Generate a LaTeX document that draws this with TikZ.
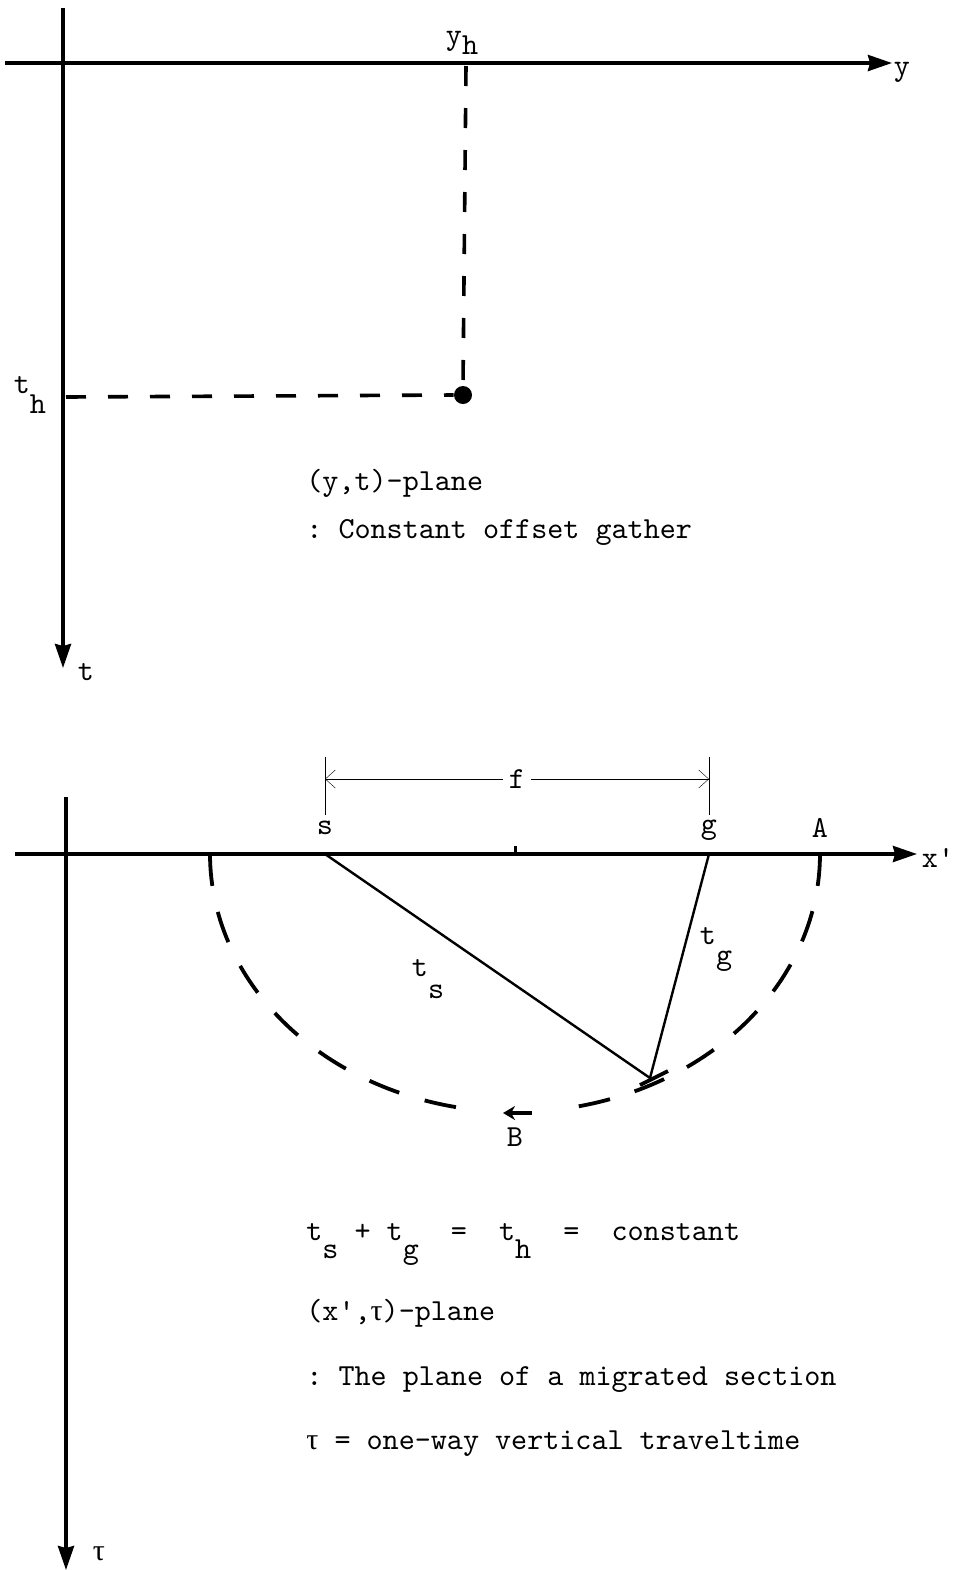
\documentclass[tikz,border=0pt]{standalone}
\usepackage{fontspec}
\setmainfont{lmmono10-regular.otf}[Ligatures=TeXOff]
\newfontfamily\greekfont{Liberation Serif}
\usetikzlibrary{arrows.meta}
\frenchspacing
\tikzset{
	axis/.style={line width=1.8pt, -{Stealth[length=12pt,width=8pt,inset=1pt]}},
	guide/.style={line width=1.8pt, dash pattern=on 10pt off 11pt},
	wave/.style={line width=1.9pt, dash pattern=on 16pt off #1},
	ray/.style={line width=1.2pt},
	lbl/.style={inner sep=0pt, font=\fontsize{15.3}{18}\selectfont},
	txt/.style={lbl, anchor=base west},
}
\newcommand{\lo}[2][9pt]{\raisebox{-#1}{#2}}
\newcommand{\tauchar}{{\greekfont\fontsize{15}{18}\selectfont τ}}
\begin{document}
\begin{tikzpicture}[x=0.5pt,y=-0.5pt]
	\useasboundingbox (0,0) rectangle (958,1570);
	% (y,t)-plane
	\coordinate (yStart) at (5,63);
	\coordinate (yEnd) at (892,63);
	\coordinate (tStart) at (63,8);
	\coordinate (tEnd) at (63,668);
	\draw[axis] (yStart) -- (yEnd);
	\draw[axis] (tStart) -- (tEnd);
	\node[lbl] (yLabel) at (902,72) {y};
	\node[lbl] (tLabel) at (86,672) {t};
	\node[lbl] (yh) at (462,43) {y\lo[5pt]{h}};
	\node[lbl] (th) at (30,395) {t\lo[10pt]{h}};
	\node[circle, fill, inner sep=0pt, minimum size=9pt] (hit) at (463,395) {};
	\coordinate (yhFoot) at (466,66);
	\coordinate (thFoot) at (66,397);
	\draw[guide] (yhFoot) -- (hit.north);
	\draw[guide] (thFoot) -- (hit.west);
	\node[txt] (gatherTitle) at (306,490) {(y,t)-plane};
	\node[txt] (gatherNote) at (306,538) {:~Constant offset gather};
	% (x',tau)-plane
	\coordinate (xStart) at (15,854);
	\coordinate (xEnd) at (917,854);
	\coordinate (tauStart) at (66,797);
	\coordinate (tauEnd) at (66,1570);
	\draw[axis] (xStart) -- (xEnd);
	\draw[axis] (tauStart) -- (tauEnd);
	\node[lbl] (xLabel) at (938,858) {x'};
	\node[lbl] (tauLabel) at (99,1554) {\tauchar};
	\coordinate (s) at (325,854);
	\coordinate (g) at (709,854);
	\coordinate (O) at (515,854);
	\coordinate (P) at (650,1078);
	\node[lbl] (sLabel) at (325,828) {s};
	\node[lbl] (gLabel) at (709,830) {g};
	\node[lbl] (aLabel) at (820,828) {A};
	\draw[wave=12.9pt] plot[domain=0:78, samples=60] ({515+305*cos(\x)},{854+258*sin(\x)});
	\draw[wave=13.3pt] plot[domain=180:101, samples=60] ({515+305*cos(\x)},{854+258*sin(\x)});
	\draw[line width=1.5pt] (O) -- ++(0,-8);
	\draw[ray] (s) -- (P);
	\draw[ray] (g) -- (P);
	\coordinate (pTickA) at (640,1085);
	\coordinate (pTickB) at (668,1071);
	\draw[line width=1.9pt] (pTickA) -- (pTickB);
	\node[lbl] (tsLabel) at (428,979) {t\lo[11pt]{s}};
	\node[lbl] (tgLabel) at (716,950) {t\lo[10pt]{g}};
	\coordinate (bTail) at (532,1113);
	\coordinate (bPoint) at (503,1113);
	\draw[line width=1.8pt, -{Stealth[length=6pt,width=7pt]}] (bTail) -- (bPoint);
	\node[lbl] (bLabel) at (515,1137) {B};
	% offset f
	\coordinate (sTop) at (325,757);
	\coordinate (sBot) at (325,815);
	\coordinate (gTop) at (709,757);
	\coordinate (gBot) at (709,815);
	\draw[thin] (sTop) -- (sBot);
	\draw[thin] (gTop) -- (gBot);
	\node[lbl, inner sep=3pt] (f) at (517,779) {f};
	\draw[very thin, -{Straight Barb[length=5pt,width=9pt]}] (f) -- (sTop |- f);
	\draw[very thin, -{Straight Barb[length=5pt,width=9pt]}] (f) -- (gTop |- f);
	\node[txt] (sumEq) at (306,1240) {t\lo{s}~+~t\lo{g}~~=~~t\lo{h}~~=~~constant};
	\node[txt] (migTitle) at (306,1320) {(x',\tauchar)-plane};
	\node[txt] (migNote) at (306,1385) {:~The plane of a migrated section};
	\node[txt] (tauNote) at (306,1449) {\tauchar{} = one-way vertical traveltime};
\end{tikzpicture}
\end{document}
